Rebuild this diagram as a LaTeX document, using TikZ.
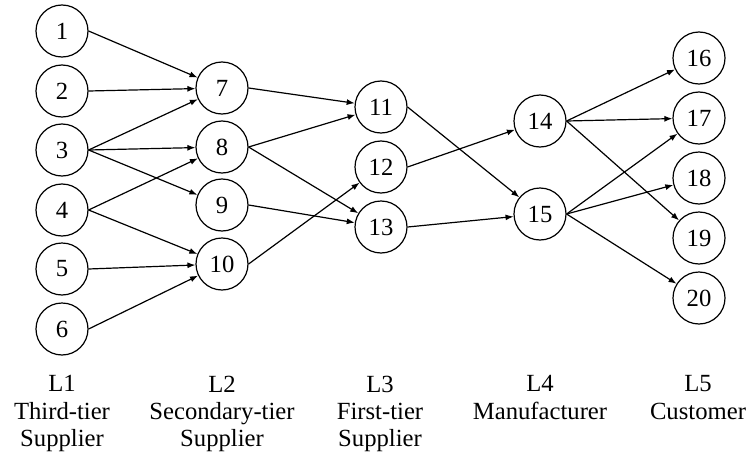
\documentclass[tikz,border=0pt]{standalone}
\usepackage{fontspec}
\setmainfont{Liberation Serif}
\usetikzlibrary{arrows.meta}
\begin{document}
\begin{tikzpicture}[x=0.75pt,y=-0.75pt,
  nd/.style={circle,draw,line width=0.9pt,minimum size=39pt,inner sep=0pt,font=\fontsize{18.5}{20}\selectfont},
  lbl/.style={align=center,font=\fontsize{18.5}{20.5}\selectfont,anchor=north},
  arr/.style={line width=0.9pt,-{Latex[length=6pt,width=4.5pt]}}]
\useasboundingbox (0,0) rectangle (750,464);
\node[nd] (n1) at (62,31) {1};
\node[nd] (n2) at (62,91) {2};
\node[nd] (n3) at (62,150) {3};
\node[nd] (n4) at (62,210) {4};
\node[nd] (n5) at (62,269) {5};
\node[nd] (n6) at (62,329) {6};
\node[nd] (n7) at (222,88) {7};
\node[nd] (n8) at (222,147) {8};
\node[nd] (n9) at (222,205) {9};
\node[nd] (n10) at (222,264) {10};
\node[nd] (n11) at (381,107) {11};
\node[nd] (n12) at (381,167) {12};
\node[nd] (n13) at (381,227) {13};
\node[nd] (n14) at (540,121) {14};
\node[nd] (n15) at (540,214) {15};
\node[nd] (n16) at (699,58) {16};
\node[nd] (n17) at (699,118) {17};
\node[nd] (n18) at (699,178) {18};
\node[nd] (n19) at (699,238) {19};
\node[nd] (n20) at (699,298) {20};
\draw[arr] (n1.east) -- (n7);
\draw[arr] (n2.east) -- (n7);
\draw[arr] (n3.east) -- (n7);
\draw[arr] (n3.east) -- (n8);
\draw[arr] (n3.east) -- (n9);
\draw[arr] (n4.east) -- (n8);
\draw[arr] (n4.east) -- (n10);
\draw[arr] (n5.east) -- (n10);
\draw[arr] (n6.east) -- (n10);
\draw[arr] (n7.east) -- (n11);
\draw[arr] (n8.east) -- (n11);
\draw[arr] (n8.east) -- (n13);
\draw[arr] (n9.east) -- (n13);
\draw[arr] (n10.east) -- (n12);
\draw[arr] (n11.east) -- (n15);
\draw[arr] (n12.east) -- (n14);
\draw[arr] (n13.east) -- (n15);
\draw[arr] (n14.east) -- (n16);
\draw[arr] (n14.east) -- (n17);
\draw[arr] (n14.east) -- (n19);
\draw[arr] (n15.east) -- (n17);
\draw[arr] (n15.east) -- (n18);
\draw[arr] (n15.east) -- (n20);
\node[lbl] (l1) at (62,371) {L1\\Third-tier\\Supplier};
\node[lbl] (l2) at (222,371) {L2\\Secondary-tier\\Supplier};
\node[lbl] (l3) at (380,371) {L3\\First-tier\\Supplier};
\node[lbl] (l4) at (540,371) {L4\\Manufacturer};
\node[lbl] (l5) at (698,371) {L5\\Customer};
\end{tikzpicture}
\end{document}
